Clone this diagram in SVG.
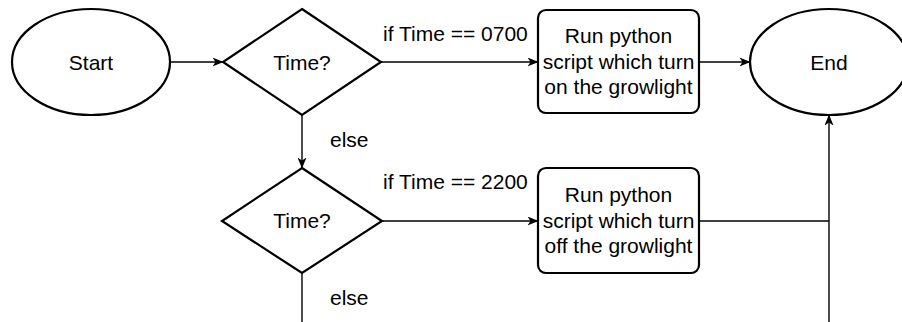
<svg xmlns="http://www.w3.org/2000/svg" width="902" height="322" viewBox="0 0 902 322">
  <defs>
    <style>
      .shape { fill: #ffffff; stroke: #000000; stroke-width: 2.2; }
      .edge { fill: none; stroke: #000000; stroke-width: 1.4; }
      .label { font-family: "Liberation Sans", Arial, Helvetica, sans-serif; font-size: 21px; fill: #000000; }
      .mid { text-anchor: middle; }
    </style>
    <marker id="arrow" viewBox="0 0 11 9" refX="10.5" refY="4.5" markerWidth="11" markerHeight="9" markerUnits="userSpaceOnUse" orient="auto">
      <path d="M0,0 L11,4.5 L0,9 L3,4.5 Z" fill="#000000"/>
    </marker>
  </defs>

  <rect width="902" height="322" fill="#ffffff"/>

  <!-- connectors -->
  <g id="connectors">
    <path class="edge" d="M170,62 L223,62" marker-end="url(#arrow)"/>
    <path class="edge" d="M381,62 L538,62" marker-end="url(#arrow)"/>
    <path class="edge" d="M699,62 L750,62" marker-end="url(#arrow)"/>
    <path class="edge" d="M302,115 L302,168" marker-end="url(#arrow)"/>
    <path class="edge" d="M382,221 L538,221" marker-end="url(#arrow)"/>
    <path class="edge" d="M699,221 L829,221"/>
    <path class="edge" d="M829,330 L829,115" marker-end="url(#arrow)"/>
    <path class="edge" d="M302,273 L302,330"/>
    <text class="label" x="383" y="41">if Time == 0700</text>
    <text class="label" x="383" y="189">if Time == 2200</text>
    <text class="label" x="330" y="147">else</text>
    <text class="label" x="330" y="305">else</text>
  </g>

  <!-- start terminator -->
  <g id="start">
    <ellipse class="shape" cx="91" cy="62" rx="79" ry="53"/>
    <text class="label mid" x="91" y="69.5">Start</text>
  </g>

  <!-- first time check -->
  <g id="decision-1">
    <polygon class="shape" points="302,9 381,62 302,115 223,62"/>
    <text class="label mid" x="302" y="69.5">Time?</text>
  </g>

  <!-- growlight on -->
  <g id="light-on">
    <rect class="shape" x="538" y="10" width="161" height="103" rx="8" ry="8"/>
    <text class="label mid" x="618.5" y="43">Run python</text>
    <text class="label mid" x="618.5" y="68.5">script which turn</text>
    <text class="label mid" x="618.5" y="94">on the growlight</text>
  </g>

  <!-- end terminator -->
  <g id="end">
    <ellipse class="shape" cx="829" cy="62" rx="79" ry="53"/>
    <text class="label mid" x="829" y="69.5">End</text>
  </g>

  <!-- second time check -->
  <g id="decision-2">
    <polygon class="shape" points="302,168 382,221 302,273 222,221"/>
    <text class="label mid" x="302" y="228">Time?</text>
  </g>

  <!-- growlight off -->
  <g id="light-off">
    <rect class="shape" x="538" y="168" width="161" height="105" rx="8" ry="8"/>
    <text class="label mid" x="618.5" y="202">Run python</text>
    <text class="label mid" x="618.5" y="227.5">script which turn</text>
    <text class="label mid" x="618.5" y="253">off the growlight</text>
  </g>
</svg>
